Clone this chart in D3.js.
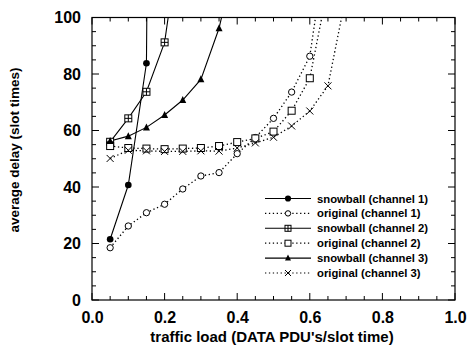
<!DOCTYPE html>
<html>
<head>
<meta charset="utf-8">
<script src="https://cdn.jsdelivr.net/npm/d3@7"></script>
<style>
  html, body { margin: 0; padding: 0; background: #fff; }
  svg { display: block; font-family: "Liberation Sans", Arial, sans-serif; }
</style>
</head>
<body>
<svg id="chart" width="468" height="355"></svg>
<script>
// Traffic load (DATA PDU's per slot time) at each simulated point
const loadSnow1 = [0.05, 0.10, 0.15, 0.20];
const delaySnow1 = [21.5, 40.7, 83.8, 900];

const loadOrig1 = [0.05, 0.10, 0.15, 0.20, 0.25, 0.30, 0.35, 0.40, 0.45, 0.50, 0.55, 0.60, 0.65];
const delayOrig1 = [18.5, 26.2, 30.9, 33.9, 39.3, 43.9, 45.1, 51.8, 57.5, 64.3, 73.6, 86.3, 130];

const loadSnow2 = [0.05, 0.10, 0.15, 0.20, 0.25];
const delaySnow2 = [56.0, 64.3, 73.7, 91.2, 136];

const loadOrig2 = [0.05, 0.10, 0.15, 0.20, 0.25, 0.30, 0.35, 0.40, 0.45, 0.50, 0.55, 0.60, 0.65];
const delayOrig2 = [54.5, 53.8, 53.6, 53.4, 53.6, 53.8, 54.5, 55.9, 57.2, 59.6, 67.0, 78.5, 111];

const loadSnow3 = [0.05, 0.10, 0.15, 0.20, 0.25, 0.30, 0.35, 0.40];
const delaySnow3 = [56.3, 58.0, 61.1, 65.5, 70.8, 78.1, 96.2, 124];

const loadOrig3 = [0.05, 0.10, 0.15, 0.20, 0.25, 0.30, 0.35, 0.40, 0.45, 0.50, 0.55, 0.60, 0.65, 0.70];
const delayOrig3 = [50.1, 53.0, 52.8, 52.6, 52.6, 52.8, 52.7, 53.8, 55.6, 57.6, 61.6, 66.9, 75.8, 108];

const seriesNames = [
  "snowball (channel 1)", "original (channel 1)",
  "snowball (channel 2)", "original (channel 2)",
  "snowball (channel 3)", "original (channel 3)"
];
const xTicks = [0.0, 0.2, 0.4, 0.6, 0.8, 1.0];
const yTicks = [0, 20, 40, 60, 80, 100];

const series = [
  { name: seriesNames[0], x: loadSnow1, y: delaySnow1, dotted: false, marker: "filledCircle" },
  { name: seriesNames[1], x: loadOrig1, y: delayOrig1, dotted: true,  marker: "openCircle" },
  { name: seriesNames[2], x: loadSnow2, y: delaySnow2, dotted: false, marker: "plusSquare" },
  { name: seriesNames[3], x: loadOrig2, y: delayOrig2, dotted: true,  marker: "openSquare" },
  { name: seriesNames[4], x: loadSnow3, y: delaySnow3, dotted: false, marker: "triangle" },
  { name: seriesNames[5], x: loadOrig3, y: delayOrig3, dotted: true,  marker: "cross" }
];

const svg = d3.select("#chart");
const plotLeft = 92, plotRight = 455, plotTop = 17.5, plotBottom = 300;

const x = d3.scaleLinear().domain([0, 1]).range([plotLeft, plotRight]);
const y = d3.scaleLinear().domain([0, 100]).range([plotBottom, plotTop]);

svg.append("defs").append("clipPath").attr("id", "plotClip")
  .append("rect").attr("x", plotLeft).attr("y", plotTop)
  .attr("width", plotRight - plotLeft).attr("height", plotBottom - plotTop);

// Inward ticks on all four sides of the frame
const xMinor = d3.range(0, 1.0001, 0.05);
const yMinor = d3.range(0, 100.001, 5);
const isMajorX = d => Math.abs(d * 5 - Math.round(d * 5)) < 1e-6;
const isMajorY = d => Math.abs(d / 20 - Math.round(d / 20)) < 1e-6;

[[plotBottom, -1], [plotTop, 1]].forEach(([pos, dir]) => {
  svg.append("g").selectAll("line").data(xMinor).join("line")
    .attr("x1", d => x(d)).attr("x2", d => x(d))
    .attr("y1", pos).attr("y2", d => pos + dir * (isMajorX(d) ? 7 : 4))
    .attr("stroke", "#000").attr("stroke-width", 1);
});
[[plotLeft, 1], [plotRight, -1]].forEach(([pos, dir]) => {
  svg.append("g").selectAll("line").data(yMinor).join("line")
    .attr("y1", d => y(d)).attr("y2", d => y(d))
    .attr("x1", pos).attr("x2", d => pos + dir * (isMajorY(d) ? 7 : 4))
    .attr("stroke", "#000").attr("stroke-width", 1);
});

// Tick labels through D3 axes
function labelAxis(axisGen, transform) {
  const g = svg.append("g").attr("transform", transform).call(axisGen);
  g.select(".domain").remove();
  g.selectAll("text").attr("font-size", 16).attr("font-weight", "bold").attr("fill", "#000")
    .attr("font-family", "Liberation Sans, Arial, sans-serif");
  return g;
}
labelAxis(d3.axisBottom(x).tickValues(xTicks).tickFormat(d3.format(".1f")).tickSize(0).tickPadding(12),
  `translate(0,${plotBottom})`);
labelAxis(d3.axisLeft(y).tickValues(yTicks).tickFormat(d3.format("d")).tickSize(0).tickPadding(11),
  `translate(${plotLeft},0)`);

svg.append("rect").attr("x", plotLeft).attr("y", plotTop)
  .attr("width", plotRight - plotLeft).attr("height", plotBottom - plotTop)
  .attr("fill", "none").attr("stroke", "#000").attr("stroke-width", 1.2);

// Axis titles
svg.append("text").attr("x", 272).attr("y", 342)
  .attr("text-anchor", "middle").attr("font-size", 15).attr("font-weight", "bold")
  .text("traffic load (DATA PDU's/slot time)");
svg.append("text")
  .attr("transform", `translate(19,150) rotate(-90)`)
  .attr("text-anchor", "middle").attr("font-size", 13.5).attr("font-weight", "bold")
  .text("average delay (slot times)");

// Marker drawing
function drawMarker(g, type, cx, cy, s) {
  const h = s / 2;
  if (type === "filledCircle") {
    g.append("circle").attr("cx", cx).attr("cy", cy).attr("r", h * 0.95).attr("fill", "#000");
  } else if (type === "openCircle") {
    g.append("circle").attr("cx", cx).attr("cy", cy).attr("r", h * 0.9)
      .attr("fill", "#fff").attr("stroke", "#000").attr("stroke-width", 1);
  } else if (type === "openSquare" || type === "plusSquare") {
    g.append("rect").attr("x", cx - h).attr("y", cy - h).attr("width", s).attr("height", s)
      .attr("fill", "#fff").attr("stroke", "#000").attr("stroke-width", 1);
    if (type === "plusSquare") {
      g.append("path").attr("d", `M${cx - h},${cy}H${cx + h}M${cx},${cy - h}V${cy + h}`)
        .attr("stroke", "#000").attr("stroke-width", 1);
    }
  } else if (type === "triangle") {
    g.append("path").attr("d", `M${cx},${cy - h - 0.5}L${cx + h},${cy + h - 0.5}L${cx - h},${cy + h - 0.5}Z`)
      .attr("fill", "#000");
  } else if (type === "cross") {
    g.append("path").attr("d", `M${cx - h},${cy - h}L${cx + h},${cy + h}M${cx - h},${cy + h}L${cx + h},${cy - h}`)
      .attr("stroke", "#000").attr("stroke-width", 1);
  }
}

const line = d3.line().x(d => x(d[0])).y(d => y(d[1]));
const plot = svg.append("g").attr("clip-path", "url(#plotClip)");

series.forEach(s => {
  const pts = s.x.map((v, i) => [v, s.y[i]]);
  plot.append("path").datum(pts).attr("d", line)
    .attr("fill", "none").attr("stroke", "#000")
    .attr("stroke-width", s.dotted ? 1.3 : 1.1)
    .attr("stroke-dasharray", s.dotted ? "1.3,2.6" : null);
});
series.forEach(s => {
  const g = svg.append("g");
  s.x.forEach((v, i) => {
    if (s.y[i] <= 100) drawMarker(g, s.marker, x(v), y(s.y[i]), 7);
  });
});

// Legend
const legend = svg.append("g");
series.forEach((s, i) => {
  const ly = 198.5 + i * 14.9;
  legend.append("line").attr("x1", 265).attr("x2", 311).attr("y1", ly).attr("y2", ly)
    .attr("stroke", "#000").attr("stroke-width", s.dotted ? 1.2 : 1.1)
    .attr("stroke-dasharray", s.dotted ? "1.3,2.6" : null);
  drawMarker(legend, s.marker, 288, ly, s.marker === "filledCircle" ? 6.5 : 6);
  legend.append("text").attr("x", 317).attr("y", ly).attr("dy", "0.36em")
    .attr("font-size", 11.3).attr("font-weight", "bold").text(s.name);
});
</script>
</body>
</html>
